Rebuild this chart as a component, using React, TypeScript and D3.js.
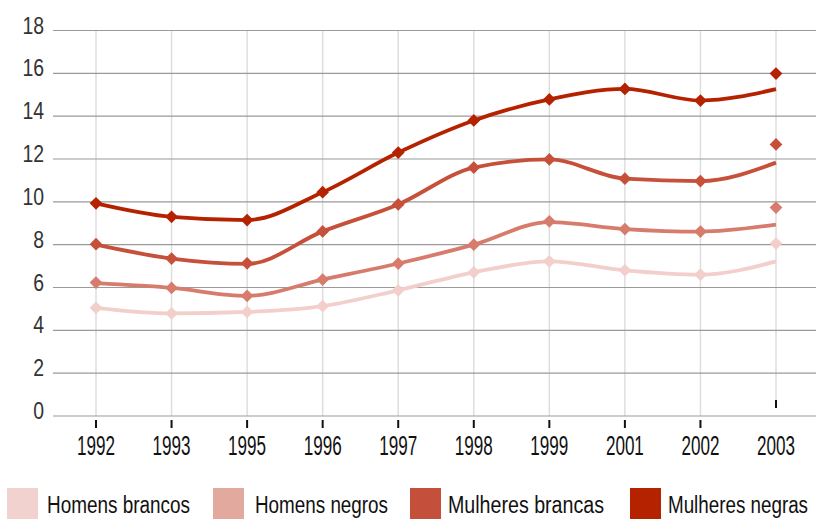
import React from "react";
import * as d3 from "d3";

const years = ["1992", "1993", "1995", "1996", "1997", "1998", "1999", "2001", "2002", "2003"];
const yTicks = [0, 2, 4, 6, 8, 10, 12, 14, 16, 18];
const seriesNames = ["Homens brancos", "Homens negros", "Mulheres brancas", "Mulheres negras"];
const lineColors = ["#f2cfca", "#d77c6d", "#c6503a", "#b52200"];
const swatchColors = ["#f2d2ce", "#e2a99e", "#c4503b", "#b52200"];

// smoothed trend lines (values at each year)
const lineHB = [5.05, 4.79, 4.86, 5.13, 5.87, 6.71, 7.22, 6.8, 6.6, 7.22];
const lineHN = [6.2, 5.98, 5.61, 6.37, 7.12, 8.0, 9.05, 8.73, 8.61, 8.94];
const lineMB = [8.0, 7.35, 7.1, 8.62, 9.88, 11.6, 11.98, 11.08, 10.97, 11.83];
const lineMN = [9.93, 9.3, 9.15, 10.45, 12.3, 13.8, 14.78, 15.27, 14.73, 15.26];

// observed markers
const markHB = [5.05, 4.79, 4.86, 5.13, 5.87, 6.71, 7.22, 6.8, 6.6, 8.05];
const markHN = [6.23, 5.98, 5.61, 6.37, 7.12, 8.0, 9.09, 8.73, 8.61, 9.73];
const markMB = [8.02, 7.35, 7.13, 8.62, 9.88, 11.6, 11.98, 11.08, 10.97, 12.68];
const markMN = [9.93, 9.3, 9.15, 10.45, 12.3, 13.8, 14.78, 15.27, 14.73, 15.99];

const lines = [lineHB, lineHN, lineMB, lineMN];
const marks = [markHB, markHN, markMB, markMN];

const W = 816;
const H = 521;
const FONT = "'Liberation Sans', Arial, sans-serif";

export default function App() {
  const x = d3.scalePoint<string>().domain(years).range([96, 776]);
  const y = d3.scaleLinear().domain([0, 18]).range([416, 30.5]);
  const gridLeft = 53;

  const lineGen = d3
    .line<number>()
    .x((_, i) => x(years[i]) as number)
    .y((d) => y(d))
    .curve(d3.curveMonotoneX);

  const legendSwatchX = [7, 213, 410, 630];
  const legendTextX = [47, 255, 448, 668];
  const legendTextW = [143, 133, 156, 140];
  const sx = 0.82;

  return (
    <svg
      width={W}
      height={H}
      style={{ position: "absolute", left: 0, top: 0, background: "#fff" }}
      fontFamily={FONT}
    >
      {/* vertical grid */}
      {years.map((yr, i) => (
        <line
          key={"v" + yr}
          x1={x(yr)}
          x2={x(yr)}
          y1={y(18)}
          y2={i === years.length - 1 ? 400 : y(0)}
          stroke="#dedede"
          strokeWidth={1.5}
        />
      ))}
      {/* horizontal grid */}
      {yTicks.map((t) => (
        <line
          key={"h" + t}
          x1={gridLeft}
          x2={W}
          y1={y(t)}
          y2={y(t)}
          stroke="#9a9a9a"
          strokeWidth={1.2}
        />
      ))}
      {/* y labels */}
      {yTicks.map((t) => (
        <text
          key={"yl" + t}
          x={44}
          y={y(t) + 3}
          textAnchor="end"
          fontSize={24}
          fill="#333"
          textLength={String(t).length * 10.8}
          lengthAdjust="spacingAndGlyphs"
        >
          {t}
        </text>
      ))}
      {/* x ticks */}
      {years.map((yr, i) => {
        const last = i === years.length - 1;
        return (
          <line
            key={"t" + yr}
            x1={x(yr)}
            x2={x(yr)}
            y1={last ? 400 : 420}
            y2={last ? 408 : 428}
            stroke="#111"
            strokeWidth={2}
          />
        );
      })}
      {/* x labels */}
      {years.map((yr) => (
        <text
          key={"xl" + yr}
          x={(x(yr) as number) - 19}
          y={455}
          fontSize={27}
          fill="#111"
          textLength={38}
          lengthAdjust="spacingAndGlyphs"
        >
          {yr}
        </text>
      ))}
      {/* lines */}
      {lines.map((vals, s) => (
        <path
          key={"l" + s}
          d={lineGen(vals) || ""}
          fill="none"
          stroke={lineColors[s]}
          strokeWidth={3.8}
          strokeLinejoin="round"
        />
      ))}
      {/* markers */}
      {marks.map((vals, s) =>
        vals.map((v, i) => (
          <rect
            key={"m" + s + "-" + i}
            x={-4.5}
            y={-4.5}
            width={9}
            height={9}
            fill={lineColors[s]}
            transform={`translate(${x(years[i])},${y(v)}) rotate(45)`}
          />
        ))
      )}
      {/* legend */}
      {seriesNames.map((n, s) => (
        <g key={"lg" + s}>
          <rect x={legendSwatchX[s]} y={488} width={31} height={31} fill={swatchColors[s]} />
          <text
            transform={`translate(${legendTextX[s]},513) scale(${sx},1)`}
            fontSize={23}
            fill="#111"
            textLength={legendTextW[s] / sx}
            lengthAdjust="spacingAndGlyphs"
          >
            {n}
          </text>
        </g>
      ))}
    </svg>
  );
}
